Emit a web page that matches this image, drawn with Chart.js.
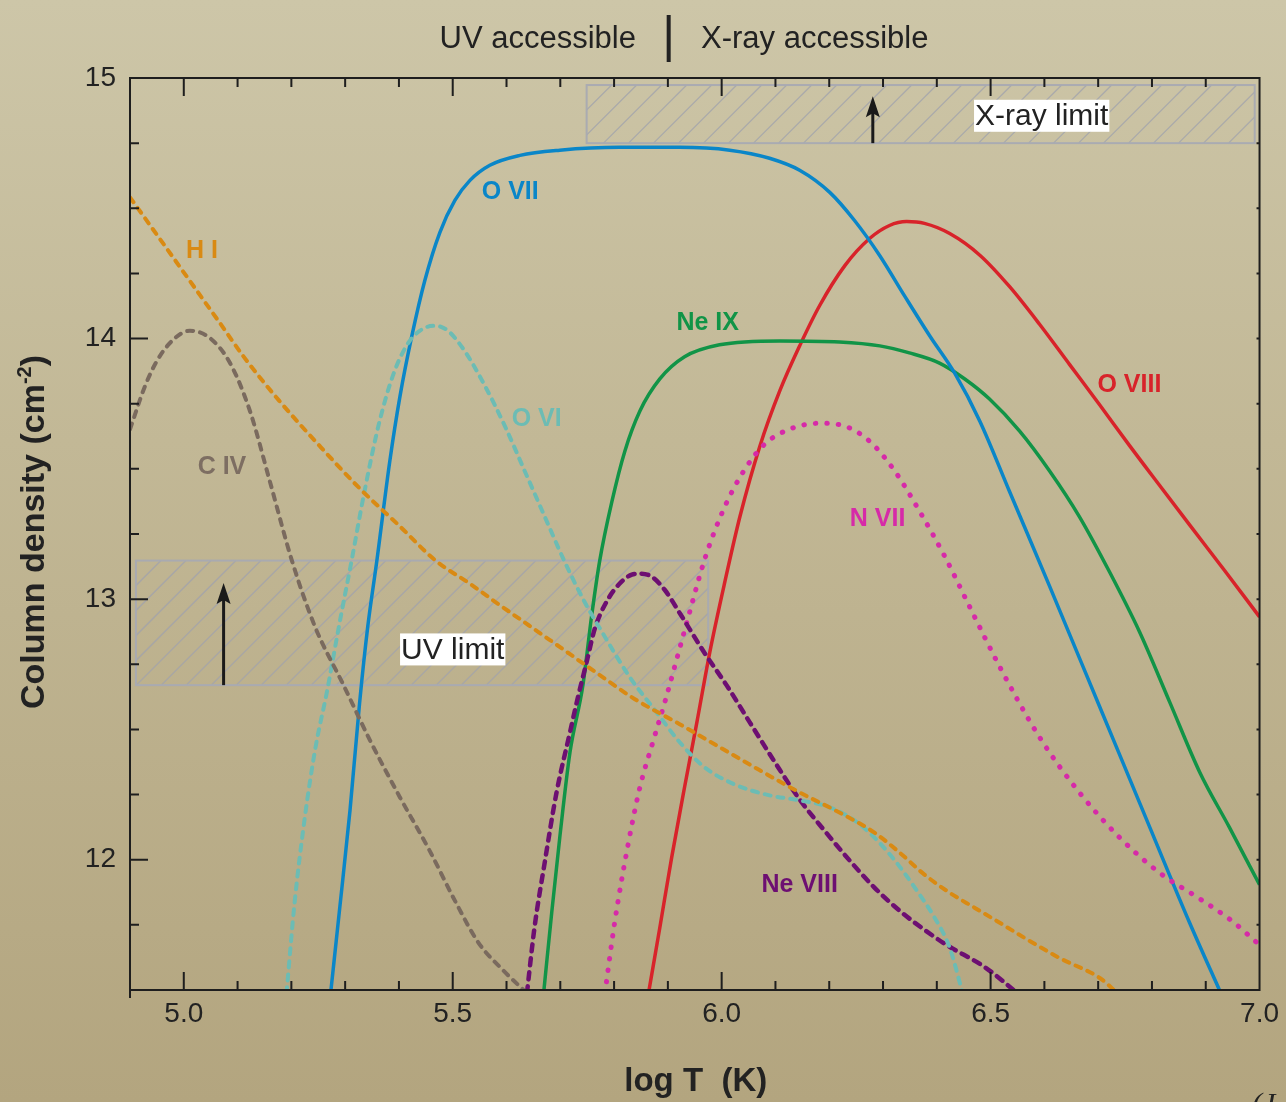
<!DOCTYPE html>
<html>
<head>
<meta charset="utf-8">
<script src="https://cdn.jsdelivr.net/npm/chart.js@4.4.1/dist/chart.umd.min.js"></script>
<style>
html,body{margin:0;padding:0;}
body{width:1286px;height:1102px;overflow:hidden;background:linear-gradient(180deg,#cdc6a8 0%,#c2b896 40%,#b3a57f 100%);}
#wrap{position:relative;width:1286px;height:1102px;}
</style>
</head>
<body>
<div id="wrap"><canvas id="chart" width="1286" height="1102"></canvas></div>
<script>
// axis ticks
var xTickLabels = [5.0, 5.5, 6.0, 6.5, 7.0];
var yTickLabels = [12, 13, 14, 15];

// log T (K) and log column density for each ion
var oviiT = [5.273,5.290,5.309,5.327,5.342,5.359,5.383,5.402,5.424,5.448,5.476,5.504,5.532,5.569,5.625,5.699,5.810,5.922,6.015,6.089,6.145,6.201,6.247,6.294,6.340,6.387,6.433,6.480,6.535,6.610,6.703,6.796,6.870,6.928];
var oviiN = [11.488,11.816,12.189,12.605,12.894,13.148,13.529,13.779,14.010,14.222,14.407,14.530,14.607,14.665,14.703,14.723,14.734,14.734,14.723,14.692,14.646,14.561,14.453,14.318,14.164,14.010,13.868,13.683,13.414,13.048,12.586,12.124,11.758,11.488];

var oviiiT = [5.864,5.885,5.907,5.931,5.954,5.978,6.006,6.034,6.071,6.108,6.145,6.182,6.229,6.275,6.312,6.344,6.377,6.424,6.480,6.535,6.591,6.647,6.703,6.758,6.814,6.870,6.935,7.0];
var oviiiN = [11.488,11.739,12.008,12.278,12.528,12.797,13.067,13.317,13.587,13.799,13.972,14.126,14.280,14.384,14.434,14.449,14.442,14.403,14.320,14.200,14.055,13.900,13.745,13.590,13.437,13.285,13.110,12.932];

var neixT = [5.669,5.684,5.699,5.718,5.742,5.758,5.773,5.796,5.820,5.848,5.885,5.931,5.996,6.108,6.219,6.294,6.349,6.405,6.452,6.498,6.554,6.610,6.665,6.721,6.777,6.833,6.889,6.944,7.0];
var neixN = [11.488,11.796,12.085,12.412,12.670,12.932,13.144,13.375,13.568,13.722,13.845,13.930,13.976,13.991,13.987,13.972,13.945,13.906,13.845,13.768,13.645,13.491,13.317,13.105,12.874,12.605,12.335,12.124,11.904];

var oviT = [5.191,5.206,5.225,5.245,5.266,5.290,5.312,5.336,5.364,5.392,5.420,5.448,5.468,5.491,5.522,5.560,5.597,5.634,5.671,5.708,5.745,5.783,5.829,5.876,5.922,5.968,6.024,6.089,6.145,6.201,6.247,6.284,6.322,6.359,6.396,6.424,6.448];
var oviN = [11.488,11.835,12.162,12.432,12.643,12.913,13.148,13.414,13.683,13.876,13.991,14.041,14.049,14.030,13.953,13.818,13.664,13.491,13.317,13.144,12.990,12.855,12.701,12.574,12.451,12.355,12.289,12.247,12.228,12.201,12.151,12.085,11.997,11.893,11.777,11.662,11.488];

var hiT = [4.9,4.955,5.011,5.067,5.113,5.178,5.253,5.327,5.402,5.468,5.532,5.587,5.680,5.773,5.838,5.922,5.996,6.071,6.145,6.219,6.284,6.331,6.377,6.424,6.470,6.517,6.563,6.628,6.703,6.736];
var hiN = [14.542,14.384,14.222,14.060,13.926,13.760,13.587,13.425,13.279,13.148,13.059,12.978,12.844,12.709,12.617,12.520,12.432,12.343,12.258,12.181,12.104,12.027,11.943,11.873,11.816,11.758,11.700,11.623,11.546,11.488];

var civT = [4.9,4.928,4.950,4.978,5.011,5.048,5.086,5.123,5.160,5.201,5.244,5.297,5.346,5.402,5.457,5.504,5.548,5.593,5.638];
var civN = [13.652,13.818,13.914,13.991,14.030,14.003,13.906,13.722,13.452,13.148,12.894,12.670,12.459,12.239,12.035,11.843,11.681,11.577,11.488];

var neviiiT = [5.638,5.652,5.671,5.693,5.718,5.732,5.749,5.764,5.786,5.810,5.833,5.849,5.870,5.894,5.924,5.967,6.009,6.052,6.099,6.145,6.191,6.238,6.284,6.331,6.377,6.418,6.489,6.550];
var neviiiN = [11.488,11.739,11.989,12.258,12.489,12.617,12.759,12.886,12.990,13.059,13.094,13.098,13.086,13.036,12.940,12.797,12.670,12.528,12.374,12.231,12.112,11.997,11.893,11.804,11.731,11.673,11.588,11.488];

var nviiT = [5.783,5.801,5.825,5.848,5.872,5.896,5.933,5.970,6.006,6.043,6.080,6.126,6.182,6.229,6.275,6.322,6.368,6.415,6.461,6.517,6.591,6.665,6.740,6.814,6.889,6.948,7.0];
var nviiN = [11.488,11.758,12.047,12.278,12.451,12.617,12.894,13.163,13.356,13.498,13.595,13.652,13.675,13.664,13.606,13.491,13.337,13.163,12.971,12.740,12.470,12.258,12.085,11.950,11.850,11.766,11.673];

var FONT = '"Liberation Sans", Arial, Helvetica, sans-serif';

function pts(t, n) {
	return t.map(function (v, i) { return {x: v, y: n[i]}; });
}

function line(t, n, color, dash, width) {
	return {
		data: pts(t, n),
		borderColor: color,
		borderWidth: width,
		borderDash: dash,
		borderCapStyle: dash.length ? 'round' : 'butt',
		pointRadius: 0,
		fill: false,
		cubicInterpolationMode: 'monotone'
	};
}

// ion name labels, placed in data units
var ionLabels = [
	{text: 'O VII', x: 5.607, y: 14.561, color: '#0a86c8'},
	{text: 'H I', x: 5.034, y: 14.337, color: '#d98a13'},
	{text: 'C IV', x: 5.071, y: 13.505, color: '#7d6e62'},
	{text: 'O VI', x: 5.656, y: 13.691, color: '#6cbcb4'},
	{text: 'Ne IX', x: 5.974, y: 14.058, color: '#119447'},
	{text: 'O VIII', x: 6.758, y: 13.822, color: '#d8232a'},
	{text: 'N VII', x: 6.290, y: 13.309, color: '#d62aa8'},
	{text: 'Ne VIII', x: 6.145, y: 11.904, color: '#6d0f72'}
];

function hatchBox(ctx, xs, ys, x0, x1, y0, y1) {
	var l = xs.getPixelForValue(x0), r = xs.getPixelForValue(x1);
	var t = ys.getPixelForValue(y1), b = ys.getPixelForValue(y0);
	ctx.save();
	ctx.beginPath();
	ctx.rect(l, t, r - l, b - t);
	ctx.clip();
	ctx.strokeStyle = 'rgba(160,163,172,0.8)';
	ctx.lineWidth = 1.3;
	var h = b - t;
	for (var sx = l - h; sx < r + 25; sx += 25) {
		ctx.beginPath();
		ctx.moveTo(sx, b);
		ctx.lineTo(sx + h, t);
		ctx.stroke();
	}
	ctx.restore();
	ctx.save();
	ctx.strokeStyle = 'rgba(168,170,178,0.95)';
	ctx.lineWidth = 2;
	ctx.strokeRect(l, t, r - l, b - t);
	ctx.restore();
}

function arrow(ctx, x, yb, yt) {
	ctx.save();
	ctx.strokeStyle = '#1a1a1a';
	ctx.fillStyle = '#1a1a1a';
	ctx.lineWidth = 3;
	ctx.beginPath();
	ctx.moveTo(x, yb);
	ctx.lineTo(x, yt + 12);
	ctx.stroke();
	ctx.beginPath();
	ctx.moveTo(x, yt);
	ctx.lineTo(x - 7, yt + 21);
	ctx.lineTo(x, yt + 17);
	ctx.lineTo(x + 7, yt + 21);
	ctx.closePath();
	ctx.fill();
	ctx.restore();
}

function whiteLabel(ctx, text, cx, cy) {
	ctx.save();
	ctx.font = '30px ' + FONT;
	var w = ctx.measureText(text).width;
	ctx.fillStyle = '#ffffff';
	ctx.fillRect(cx - w / 2 - 1, cy - 16, w + 2, 32);
	ctx.fillStyle = '#222';
	ctx.textAlign = 'center';
	ctx.textBaseline = 'middle';
	ctx.fillText(text, cx, cy + 1);
	ctx.restore();
}

var decor = {
	id: 'decor',
	beforeDatasetsDraw: function (chart) {
		var ctx = chart.ctx, xs = chart.scales.x, ys = chart.scales.y;
		hatchBox(ctx, xs, ys, 5.749, 6.991, 14.75, 14.973);
		hatchBox(ctx, xs, ys, 4.911, 5.975, 12.67, 13.148);
	},
	afterDatasetsDraw: function (chart) {
		var ctx = chart.ctx, xs = chart.scales.x, ys = chart.scales.y, a = chart.chartArea;

		arrow(ctx, xs.getPixelForValue(5.074), ys.getPixelForValue(12.67), ys.getPixelForValue(13.062));
		arrow(ctx, xs.getPixelForValue(6.281), ys.getPixelForValue(14.75), ys.getPixelForValue(14.93));
		whiteLabel(ctx, 'UV limit', xs.getPixelForValue(5.50), ys.getPixelForValue(12.807));
		whiteLabel(ctx, 'X-ray limit', xs.getPixelForValue(6.595), ys.getPixelForValue(14.855));

		// ion labels
		ctx.save();
		ctx.font = 'bold 25px ' + FONT;
		ctx.textAlign = 'center';
		ctx.textBaseline = 'middle';
		ionLabels.forEach(function (lb) {
			ctx.fillStyle = lb.color;
			ctx.fillText(lb.text, xs.getPixelForValue(lb.x), ys.getPixelForValue(lb.y));
		});
		ctx.restore();

		// frame and inward ticks
		ctx.save();
		ctx.strokeStyle = '#1e1e1e';
		ctx.lineWidth = 2;
		ctx.strokeRect(a.left, a.top, a.right - a.left, a.bottom - a.top);
		ctx.beginPath();
		ctx.moveTo(a.left, a.bottom);
		ctx.lineTo(a.left, a.bottom + 8);
		for (var i = 1; i < 21; i++) {
			var v = 4.9 + i * 0.1;
			var px = xs.getPixelForValue(v);
			var major = Math.abs(v * 2 - Math.round(v * 2)) < 1e-6;
			var L = major ? 18 : 9;
			ctx.moveTo(px, a.bottom);
			ctx.lineTo(px, a.bottom - L);
			ctx.moveTo(px, a.top);
			ctx.lineTo(px, a.top + L);
		}
		for (var j = 1; j < 14; j++) {
			var yv = 11.5 + j * 0.25;
			var py = ys.getPixelForValue(yv);
			var maj = Math.abs(yv - Math.round(yv)) < 1e-6;
			ctx.moveTo(a.left, py);
			ctx.lineTo(a.left + (maj ? 18 : 9), py);
			ctx.moveTo(a.right, py);
			ctx.lineTo(a.right - 3, py);
		}
		ctx.stroke();
		ctx.restore();

		// top region labels
		ctx.save();
		ctx.fillStyle = '#222';
		ctx.font = '31px ' + FONT;
		ctx.textAlign = 'center';
		ctx.textBaseline = 'middle';
		ctx.fillText('UV accessible', xs.getPixelForValue(5.658), a.top - 39);
		ctx.fillText('X-ray accessible', xs.getPixelForValue(6.173), a.top - 39);
		var sep = xs.getPixelForValue(5.9015);
		ctx.strokeStyle = '#222';
		ctx.lineWidth = 4;
		ctx.beginPath();
		ctx.moveTo(sep, a.top - 63);
		ctx.lineTo(sep, a.top - 16);
		ctx.stroke();
		ctx.restore();

		// axis titles
		ctx.save();
		ctx.fillStyle = '#222';
		ctx.font = 'bold 33px ' + FONT;
		ctx.textAlign = 'center';
		ctx.textBaseline = 'alphabetic';
		ctx.fillText('log T  (K)', (a.left + a.right) / 2 + 1, a.bottom + 101);
		ctx.restore();

		ctx.save();
		ctx.translate(44, (a.top + a.bottom) / 2 - 2);
		ctx.rotate(-Math.PI / 2);
		ctx.fillStyle = '#222';
		ctx.textBaseline = 'alphabetic';
		ctx.textAlign = 'left';
		ctx.font = 'bold 34px ' + FONT;
		var t1 = 'Column density (cm', t3 = ')';
		var w1 = ctx.measureText(t1).width, w3 = ctx.measureText(t3).width;
		ctx.font = 'bold 20px ' + FONT;
		var w2 = ctx.measureText('-2').width;
		var sx = -(w1 + w2 + w3) / 2;
		ctx.font = 'bold 34px ' + FONT;
		ctx.fillText(t1, sx, 0);
		ctx.font = 'bold 20px ' + FONT;
		ctx.fillText('-2', sx + w1, -13);
		ctx.font = 'bold 34px ' + FONT;
		ctx.fillText(t3, sx + w1 + w2, 0);
		ctx.restore();

		// clipped citation at the corner
		ctx.save();
		ctx.fillStyle = '#222';
		ctx.font = 'italic 30px "Liberation Serif", serif';
		ctx.fillText('(J', 1252, 1113);
		ctx.restore();
	}
};

var ctx = document.getElementById('chart').getContext('2d');
var myChart = new Chart(ctx, {
	type: 'line',
	data: {
		datasets: [
			line(hiT, hiN, '#d98a13', [6, 7], 4),
			line(civT, civN, '#7a6a5e', [6, 7], 4),
			line(oviT, oviN, '#6cbcb4', [6, 7], 4),
			line(neviiiT, neviiiN, '#6d0f72', [7, 7], 4.5),
			line(nviiT, nviiN, '#d62aa8', [0.5, 11], 5),
			line(oviiT, oviiN, '#0a86c8', [], 3.5),
			line(neixT, neixN, '#119447', [], 3.5),
			line(oviiiT, oviiiN, '#d8232a', [], 3.5)
		]
	},
	options: {
		responsive: false,
		animation: false,
		parsing: false,
		layout: {padding: {top: 78, right: 26, left: 0, bottom: 0}},
		plugins: {legend: {display: false}, tooltip: {enabled: false}},
		scales: {
			x: {
				type: 'linear', min: 4.9, max: 7.0,
				grid: {display: false, drawTicks: false},
				border: {display: false},
				ticks: {
					autoSkip: false, maxRotation: 0, padding: 7, color: '#222',
					font: {family: FONT, size: 28},
					callback: function (v) { return v.toFixed(1); }
				},
				afterBuildTicks: function (s) { s.ticks = xTickLabels.map(function (v) { return {value: v}; }); },
				afterFit: function (s) { s.height = 112; }
			},
			y: {
				type: 'linear', min: 11.5, max: 15,
				grid: {display: false, drawTicks: false},
				border: {display: false},
				ticks: {
					autoSkip: false, padding: 14, color: '#222',
					font: {family: FONT, size: 28},
					callback: function (v) { return String(v); }
				},
				afterBuildTicks: function (s) { s.ticks = yTickLabels.map(function (v) { return {value: v}; }); },
				afterFit: function (s) { s.width = 130; }
			}
		}
	},
	plugins: [decor]
});
</script>
</body>
</html>
